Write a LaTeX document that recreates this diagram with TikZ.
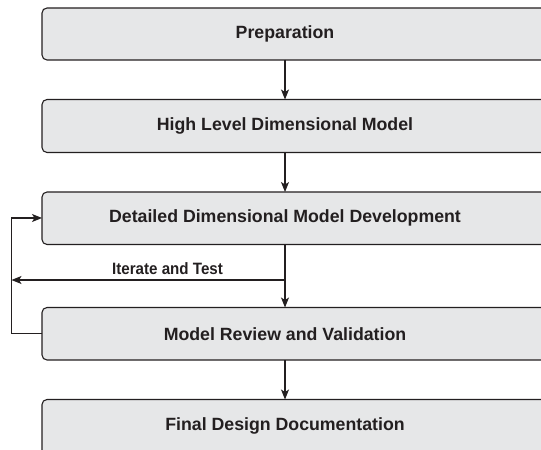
\documentclass[tikz,border=0pt]{standalone}
\usepackage{fontspec}
\setmainfont{Liberation Sans}
\newfontfamily\iterfont{Liberation Sans}[FakeStretch=0.92]
\usetikzlibrary{arrows.meta}
\definecolor{boxfill}{HTML}{E6E7E8}
\definecolor{ink}{HTML}{231F20}
\tikzset{
  stepbox/.style={draw=ink, fill=boxfill, line width=1.1bp, rounded corners=5bp},
  steplabel/.style={font=\fontsize{17.8}{20}\selectfont\bfseries, text=ink, inner sep=0pt},
  flow/.style={draw=ink, line width=1.1bp, -{Stealth[length=10bp,width=8bp,inset=2.5bp]}},
  plain/.style={draw=ink, line width=1.1bp}
}
\begin{document}
\begin{tikzpicture}[x=1bp,y=-1bp]
\useasboundingbox (0,0) rectangle (541,450);
\begin{scope}
\clip (0,0) rectangle (541,450);
\path[stepbox] (42,8) rectangle (570,60);
\path[stepbox] (42,99.5) rectangle (570,152.5);
\path[stepbox] (42,192) rectangle (570,244.5);
\path[stepbox] (42,307.5) rectangle (570,360);
\path[stepbox] (42,399.5) rectangle (570,470);
\end{scope}
\node[steplabel] (t1) at (285,34) {Preparation};
\node[steplabel] (t2) at (285,126) {High Level Dimensional Model};
\node[steplabel] (t3) at (285,218) {Detailed Dimensional Model Development};
\node[steplabel] (t4) at (285,334) {Model Review and Validation};
\node[steplabel] (t5) at (285,425.5) {Final Design Documentation};
\coordinate (b1) at (285,60);
\coordinate (b2top) at (285,99.5);
\coordinate (b2) at (285,152.5);
\coordinate (b3top) at (285,192);
\coordinate (b3) at (285,244.5);
\coordinate (b4top) at (285,307.5);
\coordinate (b4) at (285,360);
\coordinate (b5top) at (285,399.5);
\coordinate (br) at (285,280);
\coordinate (itend) at (11.5,280);
\coordinate (b4left) at (42,333.5);
\coordinate (loopbot) at (11.5,333.5);
\coordinate (looptop) at (11.5,218);
\coordinate (b3left) at (42,218);
\draw[flow] (b1) -- (b2top);
\draw[flow] (b2) -- (b3top);
\draw[flow] (b3) -- (b4top);
\draw[flow] (b4) -- (b5top);
\draw[flow] (br) -- (itend);
\draw[flow] (b4left) -- (loopbot) -- (looptop) -- (b3left);
\node[steplabel, font=\iterfont\fontsize{16.5}{18}\selectfont\bfseries, anchor=base west] (it) at (112,274) {Iterate and Test};
\end{tikzpicture}
\end{document}
